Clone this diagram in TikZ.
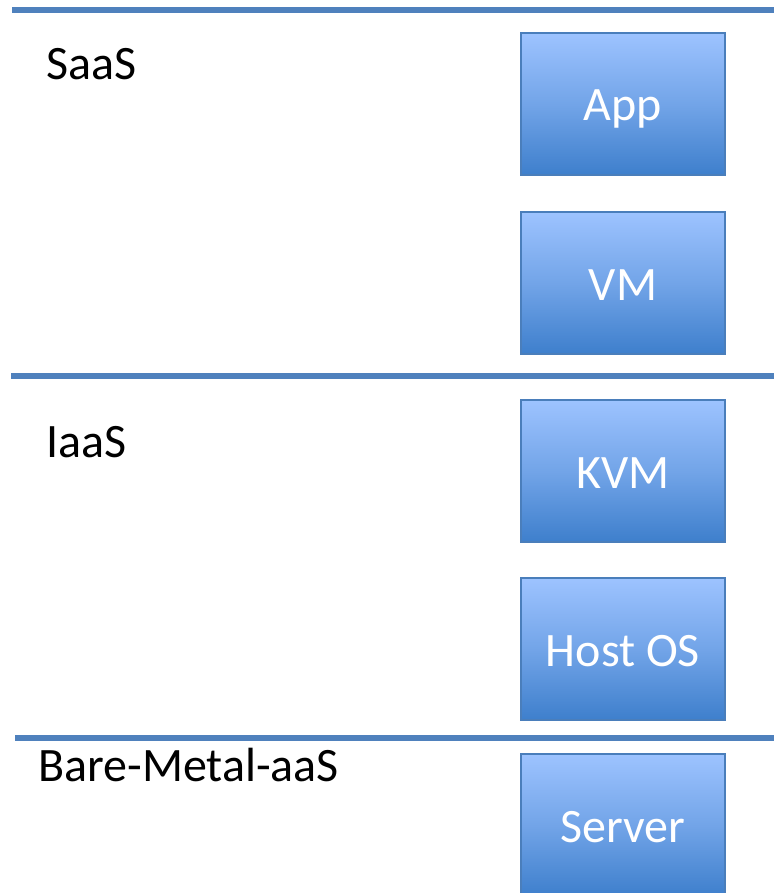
\documentclass[tikz,border=0pt]{standalone}
\usepackage{fontspec}
\setmainfont{Carlito}
\definecolor{rulecol}{HTML}{4F81BD}
\definecolor{boxedge}{HTML}{4A7EBB}
\definecolor{boxtop}{HTML}{9DC3FF}
\definecolor{boxbot}{HTML}{3E7FCC}
\begin{document}
\begin{tikzpicture}[x=1pt,y=-1pt,
  layerbox/.style={rectangle, draw=boxedge, line width=1.5pt,
    top color=boxtop, bottom color=boxbot, middle color=boxtop!55!boxbot,
    minimum width=204pt, minimum height=142pt, inner sep=0pt,
    text height=34pt, text depth=0pt,
    text=white, font=\fontsize{48}{57}\selectfont},
  layerlabel/.style={anchor=base west, inner sep=0pt, text=black,
    font=\fontsize{48}{57}\selectfont},
  divider/.style={draw=rulecol, line width=5.5pt}]
\useasboundingbox (0,0) rectangle (774,893);
% horizontal separators between the service layers
\coordinate (r1a) at (12,10);   \coordinate (r1b) at (774,10);
\coordinate (r2a) at (11,376);  \coordinate (r2b) at (774,376);
\coordinate (r3a) at (15,738);  \coordinate (r3b) at (774,738);
\draw[divider] (r1a) -- (r1b);
\draw[divider] (r2a) -- (r2b);
\draw[divider] (r3a) -- (r3b);
% layer names
\node[layerlabel] (saas) at (46,80) {SaaS};
\node[layerlabel] (iaas) at (46,457) {IaaS};
\node[layerlabel] (bmaas) at (38,781) {Bare-Metal-aaS};
% stack of components
\node[layerbox] (app) at (623,104) {App};
\node[layerbox] (vm) at (623,283) {VM};
\node[layerbox] (kvm) at (623,471) {KVM};
\node[layerbox] (hostos) at (623,649) {Host OS};
\node[layerbox] (server) at (623,825) {Server};
\end{tikzpicture}
\end{document}
